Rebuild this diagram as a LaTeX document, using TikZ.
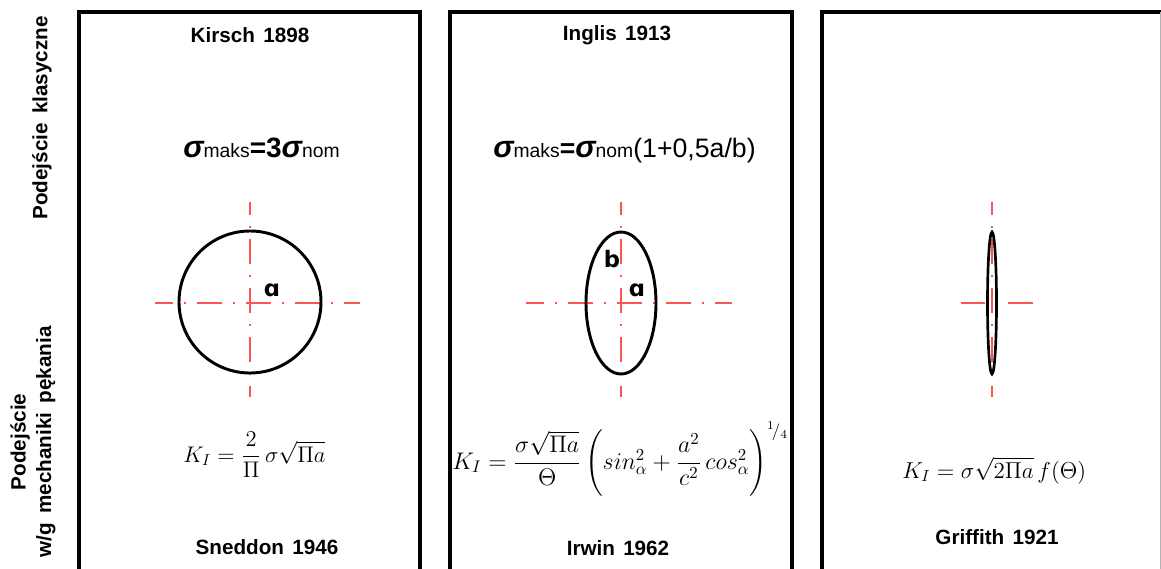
\RequirePackage{fix-cm}
\documentclass[tikz,border=0pt]{standalone}
\usepackage{amsmath}
\usepackage{graphicx}
\usepackage{fontspec}
\newfontfamily\hd{Liberation Sans}
\newfontfamily\dvsans{DejaVu Sans}
\definecolor{axisred}{RGB}{250,85,85}
\begin{document}
\begin{tikzpicture}[x=0.75pt,y=-0.75pt,
  frame/.style={line width=2.3pt,black},
  axisline/.style={axisred,line width=1.1pt,dash pattern=on 18.75pt off 8.25pt on 1.5pt off 8.25pt},
  hole/.style={line width=2.2pt,black},
  head/.style={font=\hd\bfseries\fontsize{15.5}{18}\selectfont},
  side/.style={font=\hd\bfseries\fontsize{15.5}{19}\selectfont,rotate=90,align=center},
  lbl/.style={font=\dvsans\bfseries\fontsize{17}{20}\selectfont,inner sep=0pt},
  big/.style={font=\hd\fontsize{20}{24}\selectfont,inner sep=0pt,anchor=base west},
  kform/.style={font=\fontsize{14.5}{17}\selectfont,inner sep=0pt,anchor=base west}]
\useasboundingbox (0,0) rectangle (1161,568);
\newcommand{\sig}{{\fontsize{23}{24}\selectfont\bfseries\itshape σ}}
\newcommand{\sub}[1]{{\fontsize{14.5}{16}\selectfont #1}}
% frames
\draw[frame] (79,575) -- (79,12) -- (420,12) -- (420,575);
\draw[frame] (450,575) -- (450,12) -- (792,12) -- (792,575);
\draw[frame] (822,575) -- (822,12) -- (1161,12);
\draw[gray!60,line width=1pt] (1160.5,12) -- (1160.5,575);
% side labels
\node[side] (s1) at (42,118) {Podejście\hspace{0.45em}klasyczne};
\node[side] (s2) at (33,442) {Podejście\\w/g\hspace{0.45em}mechaniki\hspace{0.45em}pękania};
% headers
\node[head] (h1) at (250,35) {Kirsch\hspace{0.4em}1898};
\node[head] (h2) at (617,35) {Inglis\hspace{0.4em}1913};
% stress formulas
\node[big] (f1) at (183,157) {\sig\sub{maks}{\fontsize{21}{24}\selectfont\bfseries=3}\sig\sub{nom}};
\node[big] (f2) at (493,157) {\sig\sub{maks}{\bfseries=}\sig\sub{nom}(1+0,5a/b)};
% axes
\draw[axisline,dash phase=5.25pt] (155,303) -- (360,303);
\draw[axisline,dash phase=9pt] (250,202) -- (250,397);
\draw[axisline,dash phase=5.25pt] (526,303) -- (732,303);
\draw[axisline,dash phase=9pt] (621,202) -- (621,397);
\draw[axisline,dash phase=9pt] (992,202) -- (992,397);
\draw[axisred,line width=1.1pt] (961,303) -- (985,303) (1008,303) -- (1033,303);
% holes
\draw[hole] (250,302) circle [radius=71];
\draw[hole] (621,303) ellipse [x radius=35,y radius=71];
\draw[hole,line width=2pt] (992,303) ellipse [x radius=4.5,y radius=71];
% hole labels
\node[lbl] (la1) at (272,290) {ɑ};
\node[lbl] (lb2) at (612,259) {b};
\node[lbl] (la2) at (637,290) {ɑ};
% K formulas
\node[kform] (k1) at (183,462) {\scalebox{1.17}{$K_I=\dfrac{2}{\Pi}\,\sigma\sqrt{\Pi a}$}};
\node[kform,font=\fontsize{15.5}{18}\selectfont] (k2) at (452,469) {\scalebox{1.16}{$K_I=\dfrac{\sigma\sqrt{\Pi a}}{\Theta}\left(sin_\alpha^2+\dfrac{a^2}{c^2}\,cos_\alpha^2\right)^{{}^1\!/_4}$}};
\node[kform] (k3) at (902,478) {\scalebox{1.19}{$K_I=\sigma\sqrt{2\Pi a}\,f(\Theta)$}};
% authors
\node[head] (a1) at (267,547) {Sneddon\hspace{0.4em}1946};
\node[head] (a2) at (618,548) {Irwin\hspace{0.4em}1962};
\node[head] (a3) at (997,537) {Griffith\hspace{0.4em}1921};
\end{tikzpicture}
\end{document}
